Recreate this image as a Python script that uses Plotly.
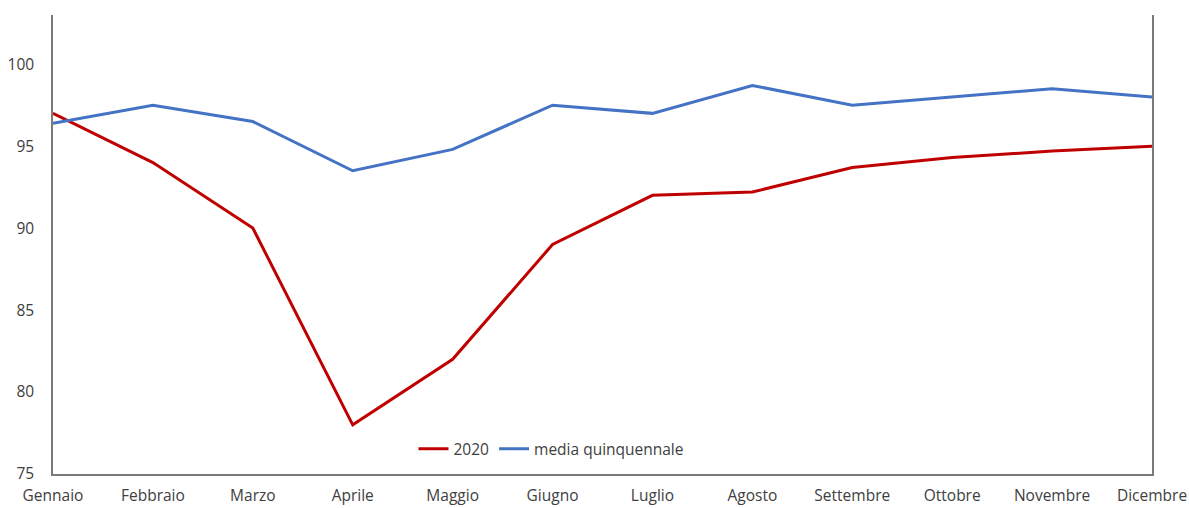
import plotly.graph_objects as go

mesi = ["Gennaio", "Febbraio", "Marzo", "Aprile", "Maggio", "Giugno",
        "Luglio", "Agosto", "Settembre", "Ottobre", "Novembre", "Dicembre"]
serie_2020 = [97.0, 94.0, 90.0, 78.0, 82.0, 89.0, 92.0, 92.2, 93.7, 94.3, 94.7, 95.0]
media_quinquennale = [96.4, 97.5, 96.5, 93.5, 94.8, 97.5, 97.0, 98.7, 97.5, 98.0, 98.5, 98.0]

fig = go.Figure()
fig.add_trace(go.Scatter(x=mesi, y=serie_2020, mode="lines", name="2020",
                         line=dict(color="#C00000", width=3)))
fig.add_trace(go.Scatter(x=mesi, y=media_quinquennale, mode="lines", name="media quinquennale",
                         line=dict(color="#4472C4", width=3)))

axis_col = "#7a7a7a"
fig.update_layout(
    width=1189, height=508,
    margin=dict(l=53, r=37, t=15, b=34, autoexpand=False),
    paper_bgcolor="white", plot_bgcolor="white",
    font=dict(family="Open Sans", size=15.5, color="#404040"),
    showlegend=True,
    legend=dict(orientation="h", x=0.328, y=0.054, xanchor="left", yanchor="middle",
                bgcolor="rgba(0,0,0,0)", font=dict(size=15.5, color="#404040"),
                itemwidth=30, tracegroupgap=0),
    xaxis=dict(type="category", range=[0, 11], showgrid=False, zeroline=False,
               automargin=False,
               showline=True, linecolor=axis_col, linewidth=1.5,
               ticks="outside", ticklen=7, tickcolor="rgba(0,0,0,0)"),
    yaxis=dict(range=[75, 103], tickvals=[75, 80, 85, 90, 95, 100], showgrid=False,
               automargin=False,
               zeroline=False, showline=True, mirror=True, linecolor=axis_col, linewidth=1.5,
               ticks="outside", ticklen=14, tickcolor="rgba(0,0,0,0)"),
)

fig.write_html("out.html")
